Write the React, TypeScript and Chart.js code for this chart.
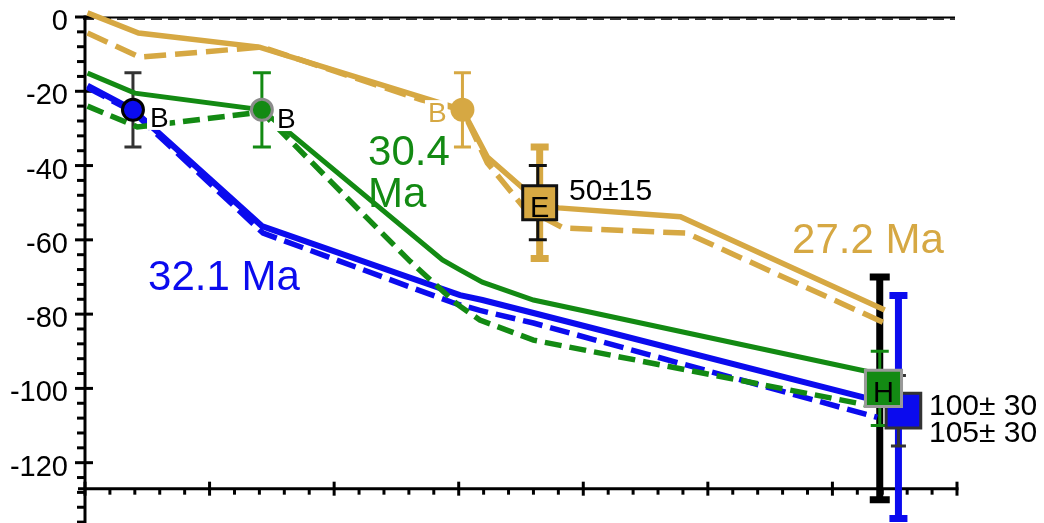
import React, { useEffect, useRef } from "react";
import { Chart, registerables } from "chart.js";

Chart.register(...registerables);

const GOLD = "#D6A843";
const GREEN = "#138A13";
const BLUE = "#0B0BEE";
const FONT = '"Liberation Sans", Arial, Helvetica, sans-serif';

// Model curves: distance along profile (x) vs. value (y)
const gold272SolidX = [0.02, 0.43, 1.4, 3.03, 3.23, 3.65, 3.8, 4.78, 6.42];
const gold272SolidY = [1.1, -4.3, -8.1, -25, -37.7, -50, -51.4, -53.8, -78.9];
const gold272DashX = [0.02, 0.44, 1.42, 2.7, 3.03, 3.23, 3.52, 3.84, 4.83, 6.42];
const gold272DashY = [-4.3, -10.8, -8.1, -22.3, -25, -39.3, -51.2, -56.8, -58.2, -82.4];
const green304SolidX = [0.02, 0.4, 1.42, 2.87, 3.01, 3.19, 3.6, 6.3];
const green304SolidY = [-15.1, -20.5, -25, -65.4, -68.1, -71.4, -76.2, -95.6];
const green304DashX = [0.02, 0.42, 1.42, 2.61, 2.99, 3.17, 3.6, 6.28];
const green304DashY = [-24, -29.6, -25.6, -65.8, -77.4, -81.6, -87, -104.5];
const blue321SolidX = [0.02, 0.385, 1.42, 3.01, 3.19, 3.6, 6.33];
const blue321SolidY = [-18.5, -25, -56.3, -74.9, -76.2, -79.7, -103.1];
const blue321DashX = [0.02, 0.385, 1.43, 2.96, 3.17, 3.6, 6.36];
const blue321DashY = [-19, -25.5, -58.2, -77, -79, -82.4, -107.8];

// Observation markers
const markerX = [0.385, 1.42, 3.03, 3.65, 6.57, 6.41];
const markerY = [-25, -25, -25, -50, -106, -100];
const markerLetters = ["", "", "", "E", "", "H"];

// Error bars
const errX = [0.385, 1.42, 3.03, 3.65, 3.635, 6.38, 6.38, 6.53, 6.53];
const errCenter = [-25, -25, -25, -50, -50, -100, -100, -105, -106];
const errHalf = [10, 10, 10, 15, 10, 30, 10, 30, 9.5];

// Axis ticks
const yMajorTicks = [0, -20, -40, -60, -80, -100, -120];
const yTickLabels = ["0", "-20", "-40", "-60", "-80", "-100", "-120"];

// Text annotations
const annTexts = ["32.1 Ma", "30.4", "Ma", "27.2 Ma", "50±15", "100± 30", "105± 30"];
const annX = [0.506, 2.272, 2.272, 5.676, 3.885, 6.775, 6.775];
const annY = [-73.5, -39.85, -51.2, -63.5, -49.3, -107.2, -114.4];
const bLabelX = [0.522, 1.541, 2.753];
const bLabelY = [-29.6, -29.9, -28.3];

const errStyles = [
  { color: "#333333", lw: 3, cap: 17 },
  { color: GREEN, lw: 3, cap: 18 },
  { color: GOLD, lw: 3, cap: 17 },
  { color: GOLD, lw: 7, cap: 18 },
  { color: "#111111", lw: 3, cap: 18 },
  { color: "#000000", lw: 7, cap: 20 },
  { color: GREEN, lw: 3, cap: 18 },
  { color: BLUE, lw: 7, cap: 18 },
  { color: "#333333", lw: 3, cap: 15 },
];
const annStyles = [
  { color: BLUE, size: 42 },
  { color: GREEN, size: 42 },
  { color: GREEN, size: 42 },
  { color: GOLD, size: 42 },
  { color: "#000", size: 30 },
  { color: "#000", size: 30 },
  { color: "#000", size: 30 },
];
const bStyles = ["#000", "#000", GOLD];

const overlay = {
  id: "overlay",
  beforeDatasetsDraw(chart: any) {
    const ctx = chart.ctx;
    const xs = chart.scales.x;
    const ys = chart.scales.y;
    const area = chart.chartArea;
    ctx.save();
    ctx.strokeStyle = "#000";
    ctx.fillStyle = "#000";
    ctx.lineCap = "butt";
    // zero reference line
    const y0 = ys.getPixelForValue(0);
    const xl = xs.getPixelForValue(-0.016);
    const xr = xs.getPixelForValue(6.984);
    ctx.lineWidth = 2;
    ctx.beginPath();
    ctx.moveTo(xl, y0 + 0.5);
    ctx.lineTo(xr, y0 + 0.5);
    ctx.stroke();
    ctx.setLineDash([11, 6]);
    ctx.strokeStyle = "#333";
    ctx.beginPath();
    ctx.moveTo(xl, y0 + 2);
    ctx.lineTo(xr, y0 + 2);
    ctx.stroke();
    ctx.setLineDash([]);
    ctx.strokeStyle = "#000";

    // y axis
    const ax = xs.getPixelForValue(0);
    ctx.lineWidth = 3;
    ctx.beginPath();
    ctx.moveTo(ax, y0 - 1.5);
    ctx.lineTo(ax, area.bottom);
    ctx.stroke();
    for (let v = 0; v >= -136; v -= 4) {
      const py = ys.getPixelForValue(v);
      const major = yMajorTicks.indexOf(v) >= 0;
      ctx.beginPath();
      ctx.moveTo(ax - (major ? 10 : 8), py);
      ctx.lineTo(ax + (major ? 8 : 0), py);
      ctx.stroke();
    }
    ctx.font = `29px ${FONT}`;
    ctx.textAlign = "right";
    ctx.textBaseline = "alphabetic";
    yMajorTicks.forEach((v, i) => {
      ctx.fillText(yTickLabels[i], ax - 17, ys.getPixelForValue(v) + 13);
    });

    // x axis
    const ay = ys.getPixelForValue(-127);
    ctx.beginPath();
    ctx.moveTo(ax - 7, ay);
    ctx.lineTo(xs.getPixelForValue(7) + 1.5, ay);
    ctx.stroke();
    for (let k = 0; k <= 35; k++) {
      const v = k / 5;
      const px = xs.getPixelForValue(v);
      const major = k % 5 === 0;
      ctx.beginPath();
      ctx.moveTo(px, ay - (major ? 7 : 0));
      ctx.lineTo(px, ay + (major ? 7 : 6));
      ctx.stroke();
    }

    // error bars
    errX.forEach((x, i) => {
      const st = errStyles[i];
      const px = xs.getPixelForValue(x);
      const top = ys.getPixelForValue(errCenter[i] + errHalf[i]);
      const bot = ys.getPixelForValue(errCenter[i] - errHalf[i]);
      ctx.strokeStyle = st.color;
      ctx.lineWidth = st.lw;
      ctx.beginPath();
      ctx.moveTo(px, top);
      ctx.lineTo(px, bot);
      ctx.moveTo(px - st.cap / 2, top);
      ctx.lineTo(px + st.cap / 2, top);
      ctx.moveTo(px - st.cap / 2, bot);
      ctx.lineTo(px + st.cap / 2, bot);
      ctx.stroke();
    });
    ctx.restore();
  },
  afterDatasetsDraw(chart: any) {
    const ctx = chart.ctx;
    const xs = chart.scales.x;
    const ys = chart.scales.y;
    ctx.save();
    ctx.textBaseline = "alphabetic";
    ctx.textAlign = "left";
    // B labels with white background
    ctx.font = `28px ${FONT}`;
    bLabelX.forEach((x, i) => {
      const px = xs.getPixelForValue(x);
      const py = ys.getPixelForValue(bLabelY[i]);
      const w = ctx.measureText("B").width;
      ctx.fillStyle = "#fff";
      ctx.fillRect(px - 3, py - 22, w + 4, 25);
      ctx.fillStyle = bStyles[i];
      ctx.fillText("B", px, py);
    });
    // letters in boxes
    ctx.font = `29px ${FONT}`;
    ctx.textAlign = "center";
    ctx.fillStyle = "#000";
    markerLetters.forEach((t, i) => {
      if (!t) return;
      const px = xs.getPixelForValue(markerX[i]);
      const py = ys.getPixelForValue(markerY[i]);
      ctx.fillText(t, px, py + 14);
    });
    // annotations
    ctx.textAlign = "left";
    annTexts.forEach((t, i) => {
      ctx.font = `${annStyles[i].size}px ${FONT}`;
      ctx.fillStyle = annStyles[i].color;
      ctx.fillText(t, xs.getPixelForValue(annX[i]), ys.getPixelForValue(annY[i]));
    });
    ctx.restore();
  },
};

export default function App() {
  const ref = useRef<HTMLCanvasElement>(null);
  useEffect(() => {
    const canvas = ref.current;
    if (!canvas) return;
    const lineDs = (xa: number[], ya: number[], color: string, width: number, dash: number[], order: number) => ({
      data: xa.map((x, i) => ({ x, y: ya[i] })),
      showLine: true,
      borderColor: color,
      backgroundColor: color,
      borderWidth: width,
      borderDash: dash,
      pointRadius: 0,
      pointHoverRadius: 0,
      tension: 0,
      order,
    });
    const markerDs = (i: number, style: string, radius: number, fill: string, border: string, bw: number, order: number) => ({
      data: [{ x: markerX[i], y: markerY[i] }],
      showLine: false,
      pointStyle: style,
      pointRadius: radius,
      pointHoverRadius: radius,
      backgroundColor: fill,
      borderColor: border,
      borderWidth: bw,
      order,
    });
    const datasets: any[] = [
      lineDs(blue321SolidX, blue321SolidY, BLUE, 6, [], 15),
      lineDs(blue321DashX, blue321DashY, BLUE, 5.5, [20, 8], 16),
      lineDs(green304SolidX, green304SolidY, GREEN, 5, [], 13),
      lineDs(green304DashX, green304DashY, GREEN, 5.5, [17, 8], 14),
      lineDs(gold272SolidX, gold272SolidY, GOLD, 5.5, [], 11),
      lineDs(gold272DashX, gold272DashY, GOLD, 5.5, [22, 9], 12),
      markerDs(0, "circle", 10.5, BLUE, "#000", 3, 3),
      markerDs(1, "circle", 10.5, GREEN, "#8c8c8c", 3, 3),
      markerDs(2, "circle", 12, GOLD, GOLD, 0, 3),
      markerDs(3, "rect", 24, GOLD, "#111", 3, 3),
      markerDs(4, "rect", 24.5, BLUE, "#333", 3, 5),
      markerDs(5, "rect", 25.5, GREEN, "#999", 3, 4),
    ];
    const chart = new Chart(canvas, {
      type: "scatter",
      data: { datasets },
      options: {
        animation: false,
        responsive: true,
        maintainAspectRatio: false,
        events: [],
        layout: { padding: 0, autoPadding: false },
        plugins: { legend: { display: false }, tooltip: { enabled: false } },
        scales: {
          x: { type: "linear", min: -0.6823, max: 7.6985, display: false },
          y: { type: "linear", min: -136.24, max: 4.577, display: false },
        },
      },
      plugins: [overlay],
    } as any);
    return () => chart.destroy();
  }, []);
  return (
    <div style={{ position: "fixed", left: 0, top: 0, width: 1044, height: 523, background: "#fff" }}>
      <canvas ref={ref} />
    </div>
  );
}
